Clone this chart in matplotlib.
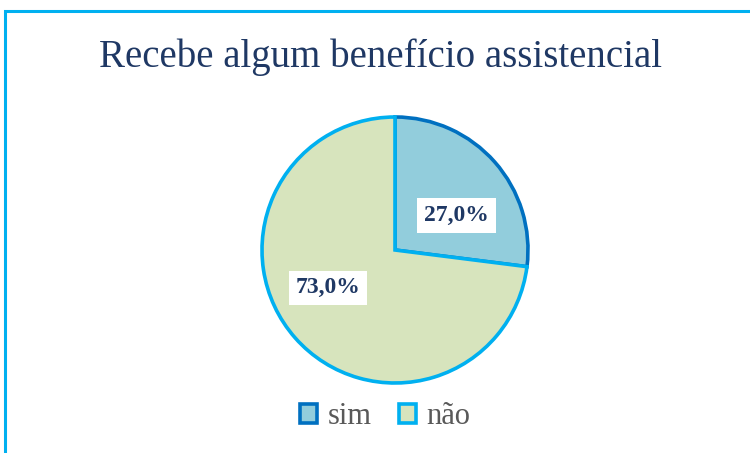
import matplotlib
matplotlib.use("Agg")
import matplotlib.pyplot as plt
from matplotlib.patches import Patch, Rectangle
import numpy as np

categories = ["sim", "não"]
values = [27.0, 73.0]
title = "Recebe algum benefício assistencial"

face_colors = ["#92CDDC", "#D7E4BD"]
edge_colors = ["#0070C0", "#00B0F0"]
navy = "#1F3864"
serif = ["Liberation Serif", "DejaVu Serif"]

fig = plt.figure(figsize=(7.5, 4.53), dpi=100)
fig.patch.set_facecolor("white")

# outer frame (right & bottom edges are cropped in the reference)
frame = Rectangle((5 / 750, -0.1), 1.2, 1 - 11 / 453 + 0.1, transform=fig.transFigure,
                  fill=False, edgecolor="#00B0F0", linewidth=2.2)
fig.patches.append(frame)

cx, cy, r = 395 / 750, 1 - 250 / 453, 133
w, h = 2 * r / 750, 2 * r / 453
ax = fig.add_axes([cx - w / 2, cy - h / 2, w, h])

wedges, texts, autotexts = ax.pie(
    values, startangle=90, counterclock=False, radius=1.0,
    colors=face_colors, autopct=lambda p: f"{p:.1f}%".replace(".", ","),
    pctdistance=0.56,
    wedgeprops=dict(linewidth=2.6),
    textprops=dict(fontsize=17, fontweight="bold", color=navy, family=serif),
)
ax.set_xlim(-1.0, 1.0)
ax.set_ylim(-1.0, 1.0)
ax.axis("off")
for wdg, ec in zip(wedges, edge_colors):
    wdg.set_edgecolor(ec)

# shift label angles slightly as the original places them
for wdg, at, dist in zip(wedges, autotexts, [0.53, 0.58]):
    mid = np.deg2rad((wdg.theta1 + wdg.theta2) / 2 - 12)
    at.set_position((dist * np.cos(mid), dist * np.sin(mid)))
    at.set_bbox(dict(facecolor="white", edgecolor="none", pad=5))

fig.text(0.507, 1 - 57 / 453, title, ha="center", va="center",
         fontsize=28, color=navy, family=serif)

handles = [Patch(facecolor=f, edgecolor=e, linewidth=2.6) for f, e in zip(face_colors, edge_colors)]
leg = fig.legend(handles, categories, loc="center", bbox_to_anchor=(0.514, 1 - 417 / 453),
                 ncol=2, frameon=False, handlelength=0.55, handleheight=0.55,
                 handletextpad=0.35, columnspacing=0.9,
                 prop=dict(family=serif, size=22))
for t in leg.get_texts():
    t.set_color("#595959")

fig.savefig("out.png", dpi=100, facecolor="white")
